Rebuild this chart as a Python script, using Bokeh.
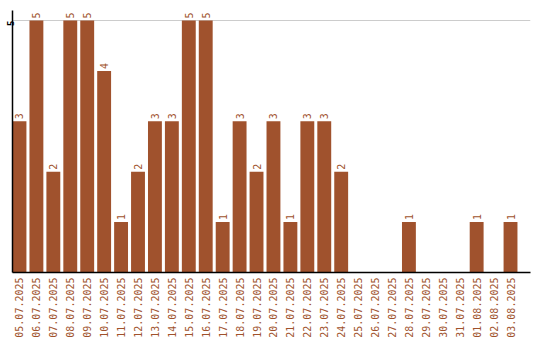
import math
from bokeh.plotting import figure
from bokeh.models import ColumnDataSource, Range1d, FixedTicker
from bokeh.core.properties import value
from bokeh.embed import file_html
from bokeh.resources import INLINE

dates = ["05.07.2025", "06.07.2025", "07.07.2025", "08.07.2025", "09.07.2025",
         "10.07.2025", "11.07.2025", "12.07.2025", "13.07.2025", "14.07.2025",
         "15.07.2025", "16.07.2025", "17.07.2025", "18.07.2025", "19.07.2025",
         "20.07.2025", "21.07.2025", "22.07.2025", "23.07.2025", "24.07.2025",
         "25.07.2025", "26.07.2025", "27.07.2025", "28.07.2025", "29.07.2025",
         "30.07.2025", "31.07.2025", "01.08.2025", "02.08.2025", "03.08.2025"]
counts = [3, 5, 2, 5, 5, 4, 1, 2, 3, 3, 5, 5, 1, 3, 2, 3, 1, 3, 3, 2,
          0, 0, 0, 1, 0, 0, 0, 1, 0, 1]
y_ticks = [5]

BAR = "#A0522D"
FONT = "DejaVu Sans Mono"

xs = list(range(len(dates)))
src = ColumnDataSource(dict(x=xs, top=counts))
lab = ColumnDataSource(dict(
    x=[x for x, c in zip(xs, counts) if c > 0],
    y=[c for c in counts if c > 0],
    t=[str(c) for c in counts if c > 0],
))

p = figure(width=540, height=340, output_backend="svg", toolbar_location=None,
           x_range=Range1d(-0.412, 30.18), y_range=Range1d(0, 5.2),
           min_border_left=0, min_border_right=10, min_border_top=10,
           min_border_bottom=0)
p.outline_line_color = None
p.background_fill_color = "white"

p.vbar(x="x", top="top", width=0.82, bottom=0, source=src,
       fill_color=BAR, line_color=None)
p.text(x="x", y="y", text="t", source=lab, angle=math.pi / 2,
       text_align="left", text_baseline="middle", y_offset=-2,
       text_font=value(FONT), text_font_size="10px", text_color=BAR)

p.xgrid.visible = False
p.ygrid.ticker = FixedTicker(ticks=y_ticks)
p.ygrid.grid_line_color = "#cccccc"

p.xaxis.ticker = FixedTicker(ticks=xs)
p.xaxis.major_label_overrides = {i: d for i, d in enumerate(dates)}
p.xaxis.major_label_orientation = math.pi / 2
p.xaxis.major_label_text_font = FONT
p.xaxis.major_label_text_font_size = "10px"
p.xaxis.major_label_text_color = BAR
p.xaxis.major_tick_out = 0
p.xaxis.major_tick_in = 0
p.xaxis.minor_tick_out = 0
p.xaxis.major_label_standoff = 5
p.xaxis.axis_line_color = "black"
p.xaxis.axis_line_width = 1.5

p.yaxis.ticker = FixedTicker(ticks=y_ticks)
p.yaxis.major_label_orientation = math.pi / 2
p.yaxis.major_label_text_font = FONT
p.yaxis.major_label_text_font_size = "9px"
p.yaxis.major_label_text_font_style = "bold"
p.yaxis.major_label_text_color = "black"
p.yaxis.major_tick_out = 0
p.yaxis.major_tick_in = 0
p.yaxis.minor_tick_out = 0
p.yaxis.major_label_standoff = 2
p.yaxis.axis_line_color = "black"
p.yaxis.axis_line_width = 1.5

open("out.html", "w").write(file_html(p, INLINE))
